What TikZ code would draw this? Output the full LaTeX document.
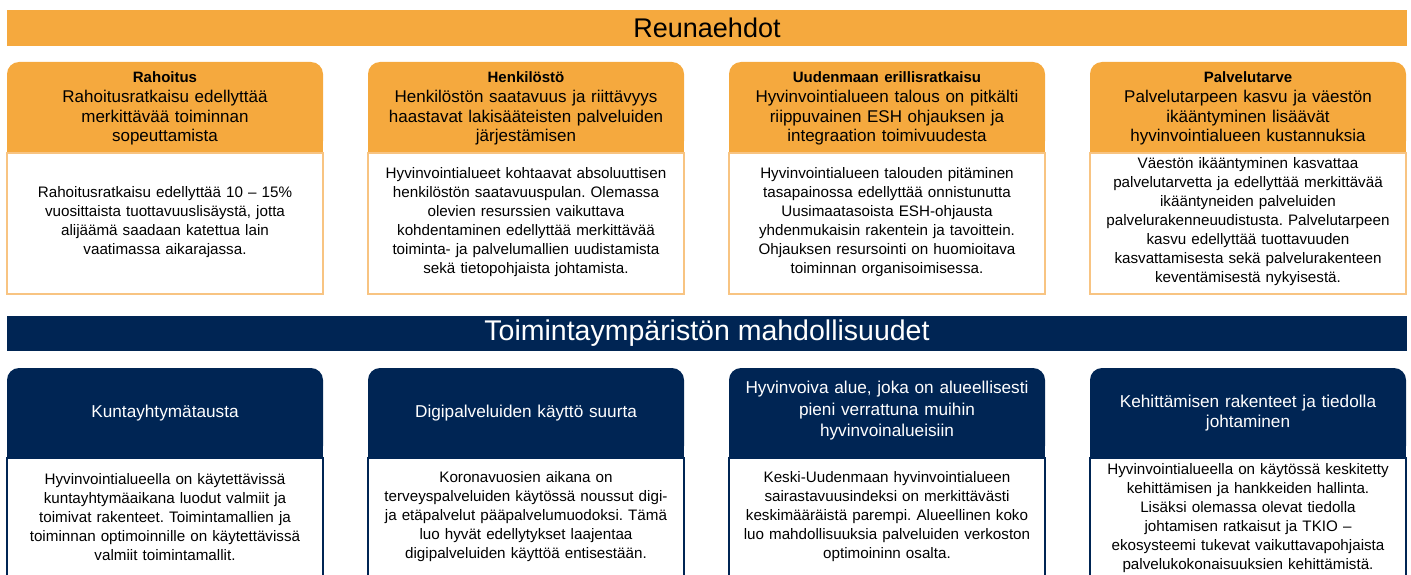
\documentclass[tikz,border=0pt]{standalone}
\usepackage{fontspec}
\setmainfont{Liberation Sans}
\usepackage{tikz}
\definecolor{reuna}{RGB}{245,169,62}
\definecolor{reunaline}{RGB}{248,196,130}
\definecolor{laivasto}{RGB}{0,37,84}
\tikzset{
	banner/.style={font=\fontsize{27}{30}\selectfont},
	headtext/.style={text width=312pt, align=center, inner sep=0pt, font=\fontsize{17}{19.8}\selectfont},
	bodytext/.style={text width=312pt, align=center, inner sep=0pt, font=\fontsize{15.2}{19}\selectfont},
}
\newcommand\otsikko[1]{{\fontsize{15}{20}\selectfont\bfseries #1}}

\begin{document}
\frenchspacing
\begin{tikzpicture}[x=1pt, y=-1pt]
	%%%%% START %%%%%
	\useasboundingbox (0,0) rectangle (1411,575);
	
	% Reunaehdot
	\fill[reuna] (7,10) rectangle (1407,46);
	\node[banner] (reunaehdot) at (707,28) {Reunaehdot};
	
	\foreach \x in {7,368,729,1090} {
		\fill[reuna, rounded corners=12pt] (\x,62) rectangle (\x+316,153);
		\fill[reuna] (\x,110) rectangle (\x+316,153);
		\draw[line width=1.3pt, reunaline, fill=white] (\x,153) rectangle (\x+316,294);
	}
	
	\node[headtext] (rahoitus) at (165,108.5) {\otsikko{Rahoitus}\\ Rahoitusratkaisu edellyttää\\ merkittävää toiminnan\\ sopeuttamista};
	\node[headtext] (henkilosto) at (526,108.5) {\otsikko{Henkilöstö}\\ Henkilöstön saatavuus ja riittävyys\\ haastavat lakisääteisten palveluiden\\ järjestämisen};
	\node[headtext] (erillisratkaisu) at (887,108.5) {\otsikko{Uudenmaan erillisratkaisu}\\ Hyvinvointialueen talous on pitkälti\\ riippuvainen ESH ohjauksen ja\\ integraation toimivuudesta};
	\node[headtext] (palvelutarve) at (1248,108.5) {\otsikko{Palvelutarve}\\ Palvelutarpeen kasvu ja väestön\\ ikääntyminen lisäävät\\ hyvinvointialueen kustannuksia};
	
	\node[bodytext] (rahoitusteksti) at (165,222) {Rahoitusratkaisu edellyttää 10 – 15\%\\ vuosittaista tuottavuuslisäystä, jotta\\ alijäämä saadaan katettua lain\\ vaatimassa aikarajassa.};
	\node[bodytext] (henkilostoteksti) at (526,222) {Hyvinvointialueet kohtaavat absoluuttisen\\ henkilöstön saatavuuspulan. Olemassa\\ olevien resurssien vaikuttava\\ kohdentaminen edellyttää merkittävää\\ toiminta- ja palvelumallien uudistamista\\ sekä tietopohjaista johtamista.};
	\node[bodytext] (erillisteksti) at (887,222) {Hyvinvointialueen talouden pitäminen\\ tasapainossa edellyttää onnistunutta\\ Uusimaatasoista ESH-ohjausta\\ yhdenmukaisin rakentein ja tavoittein.\\ Ohjauksen resursointi on huomioitava\\ toiminnan organisoimisessa.};
	\node[bodytext] (palveluteksti) at (1248,222) {Väestön ikääntyminen kasvattaa\\ palvelutarvetta ja edellyttää merkittävää\\ ikääntyneiden palveluiden\\ palvelurakenneuudistusta. Palvelutarpeen\\ kasvu edellyttää tuottavuuden\\ kasvattamisesta sekä palvelurakenteen\\ keventämisestä nykyisestä.};
	
	% Toimintaympariston mahdollisuudet
	\fill[laivasto] (7,316) rectangle (1407,351);
	\node[banner, text=white, font=\fontsize{28.5}{30}\selectfont] (mahdollisuudet) at (707,333.5) {Toimintaympäristön mahdollisuudet};
	
	\foreach \x in {7,368,729,1090} {
		\fill[laivasto, rounded corners=12pt] (\x,368) rectangle (\x+316,458);
		\fill[laivasto] (\x,415) rectangle (\x+316,458);
		\draw[line width=1.1pt, laivasto, fill=white] (\x,458) rectangle (\x+316,590);
	}
	
	\node[headtext, text=white, font=\fontsize{17.2}{21.5}\selectfont] (kuntayhtyma) at (165,413) {Kuntayhtymätausta};
	\node[headtext, text=white, font=\fontsize{17.2}{21.5}\selectfont] (digipalvelut) at (526,413) {Digipalveluiden käyttö suurta};
	\node[headtext, text=white, font=\fontsize{17.2}{21.5}\selectfont] (hyvinvoiva) at (887,411) {Hyvinvoiva alue, joka on alueellisesti\\ pieni verrattuna muihin\\ hyvinvoinalueisiin};
	\node[headtext, text=white, font=\fontsize{17.2}{20.5}\selectfont] (kehittaminen) at (1248,413) {Kehittämisen rakenteet ja tiedolla\\ johtaminen};
	
	\node[bodytext] (kuntateksti) at (165,517) {Hyvinvointialueella on käytettävissä\\ kuntayhtymäaikana luodut valmiit ja\\ toimivat rakenteet. Toimintamallien ja\\ toiminnan optimoinnille on käytettävissä\\ valmiit toimintamallit.};
	\node[bodytext] (digiteksti) at (526,517) {Koronavuosien aikana on\\ terveyspalveluiden käytössä noussut digi-\\ ja etäpalvelut pääpalvelumuodoksi. Tämä\\ luo hyvät edellytykset laajentaa\\ digipalveluiden käyttöä entisestään.};
	\node[bodytext] (hyvinvoivateksti) at (887,517) {Keski-Uudenmaan hyvinvointialueen\\ sairastavuusindeksi on merkittävästi\\ keskimääräistä parempi. Alueellinen koko\\ luo mahdollisuuksia palveluiden verkoston\\ optimoininn osalta.};
	\node[bodytext] (kehitysteksti) at (1248,518) {Hyvinvointialueella on käytössä keskitetty\\ kehittämisen ja hankkeiden hallinta.\\ Lisäksi olemassa olevat tiedolla\\ johtamisen ratkaisut ja TKIO –\\ ekosysteemi tukevat vaikuttavapohjaista\\ palvelukokonaisuuksien kehittämistä.};
	
	%%%%% END %%%%%
\end{tikzpicture}
\end{document}
